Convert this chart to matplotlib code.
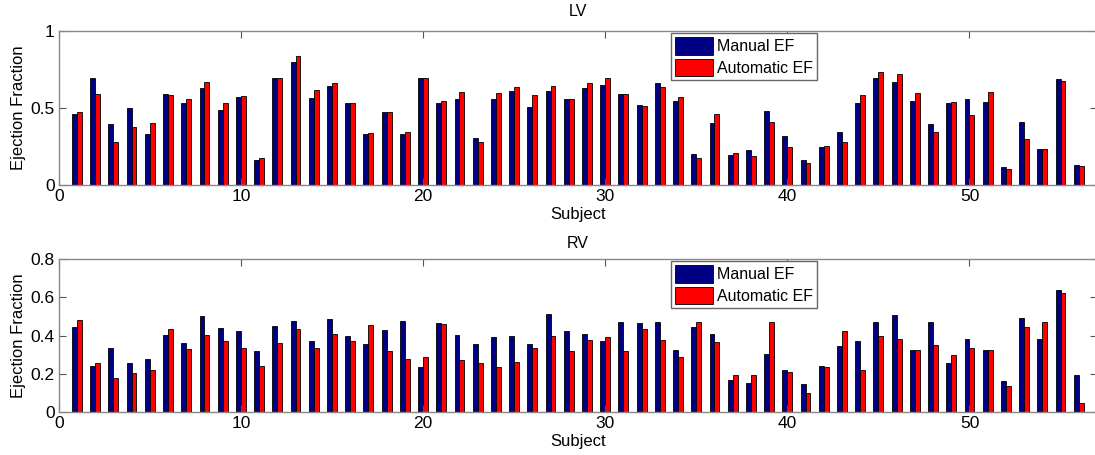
import numpy as np
import matplotlib
matplotlib.use("Agg")
import matplotlib.pyplot as plt

plt.rcParams["font.family"] = ["Liberation Sans", "DejaVu Sans"]

subjects = np.arange(1, 57)

lv_manual = [0.46, 0.697, 0.394, 0.50, 0.329, 0.593, 0.53, 0.63, 0.485, 0.571,
             0.162, 0.697, 0.797, 0.563, 0.645, 0.53, 0.329, 0.474, 0.329, 0.697,
             0.532, 0.556, 0.303, 0.556, 0.61, 0.504, 0.613, 0.556, 0.628, 0.649,
             0.589, 0.519, 0.66, 0.543, 0.199, 0.403, 0.195, 0.227, 0.48, 0.32,
             0.162, 0.245, 0.344, 0.535, 0.697, 0.667, 0.548, 0.394, 0.535, 0.556,
             0.541, 0.119, 0.407, 0.234, 0.686, 0.13]
lv_auto = [0.474, 0.593, 0.277, 0.377, 0.40, 0.582, 0.556, 0.667, 0.53, 0.578,
           0.177, 0.697, 0.838, 0.619, 0.66, 0.535, 0.335, 0.474, 0.342, 0.693,
           0.548, 0.604, 0.281, 0.597, 0.634, 0.587, 0.645, 0.556, 0.66, 0.697,
           0.589, 0.515, 0.636, 0.571, 0.173, 0.463, 0.21, 0.188, 0.411, 0.245,
           0.141, 0.251, 0.281, 0.582, 0.734, 0.719, 0.60, 0.344, 0.541, 0.452,
           0.604, 0.104, 0.297, 0.234, 0.675, 0.126]

rv_manual = [0.442, 0.242, 0.334, 0.257, 0.275, 0.403, 0.362, 0.504, 0.438, 0.423,
             0.32, 0.45, 0.477, 0.37, 0.487, 0.395, 0.358, 0.43, 0.478, 0.233,
             0.464, 0.403, 0.358, 0.39, 0.397, 0.353, 0.51, 0.426, 0.409, 0.37,
             0.468, 0.464, 0.471, 0.322, 0.447, 0.409, 0.165, 0.15, 0.304, 0.221,
             0.144, 0.242, 0.346, 0.372, 0.468, 0.506, 0.325, 0.468, 0.254, 0.384,
             0.325, 0.162, 0.492, 0.384, 0.638, 0.195]
rv_auto = [0.483, 0.257, 0.177, 0.202, 0.217, 0.435, 0.33, 0.403, 0.37, 0.334,
           0.242, 0.362, 0.433, 0.337, 0.407, 0.369, 0.454, 0.32, 0.278, 0.29,
           0.459, 0.27, 0.257, 0.233, 0.263, 0.334, 0.40, 0.32, 0.377, 0.39,
           0.32, 0.435, 0.377, 0.289, 0.468, 0.365, 0.195, 0.195, 0.473, 0.21,
           0.097, 0.233, 0.426, 0.219, 0.40, 0.384, 0.325, 0.35, 0.299, 0.334,
           0.322, 0.134, 0.442, 0.473, 0.621, 0.047]

panels = [
    ("LV", lv_manual, lv_auto, 1.0, [0, 0.5, 1], ["0", "0.5", "1"], 11),
    ("RV", rv_manual, rv_auto, 0.8, [0, 0.2, 0.4, 0.6, 0.8], ["0", "0.2", "0.4", "0.6", "0.8"], 8),
]

W, H = 1095, 455
fig = plt.figure(figsize=(W / 100, H / 100), dpi=100)

# axes boxes in pixels: left, top, right, bottom
boxes = [(58.7, 31, 1097, 185), (58.7, 259, 1097, 412)]

blue = "#000084"
red = "#ff0000"
width = 0.27

for (title, man, auto, ymax, yt, ytl, tpad), (l, t, r, b) in zip(panels, boxes):
    ax = fig.add_axes([l / W, 1 - b / H, (r - l) / W, (b - t) / H])
    ax.bar(subjects - width / 2, man, width, color=blue, edgecolor="black",
           linewidth=0.6, label="Manual EF")
    ax.bar(subjects + width / 2, auto, width, color=red, edgecolor="black",
           linewidth=0.6, label="Automatic EF")
    ax.set_xlim(0, 57)
    ax.set_ylim(0, ymax)
    ax.set_xticks([0, 10, 20, 30, 40, 50])
    ax.set_yticks(yt)
    ax.set_yticklabels(ytl)
    ax.tick_params(direction="in", top=True, right=True, labelsize=12.5,
                   length=5, color="#555555", pad=3)
    for s in ax.spines.values():
        s.set_color("#888888")
        s.set_linewidth(1.0)
    ax.set_title(title, fontsize=11.5, pad=tpad)
    ax.set_xlabel("Subject", fontsize=12, labelpad=2)
    ax.set_ylabel("Ejection Fraction", fontsize=12, labelpad=3)
    leg = ax.legend(loc="upper left", bbox_to_anchor=((669 - l) / (r - l), 1.0),
                    fontsize=11.5, handlelength=2.4, handleheight=1.35,
                    handletextpad=0.25, borderpad=0.25, labelspacing=0.25,
                    fancybox=False, framealpha=1, borderaxespad=0.1)
    leg.get_frame().set_edgecolor("#666666")
    leg.get_frame().set_linewidth(1.0)

fig.savefig("out.png", dpi=100)
